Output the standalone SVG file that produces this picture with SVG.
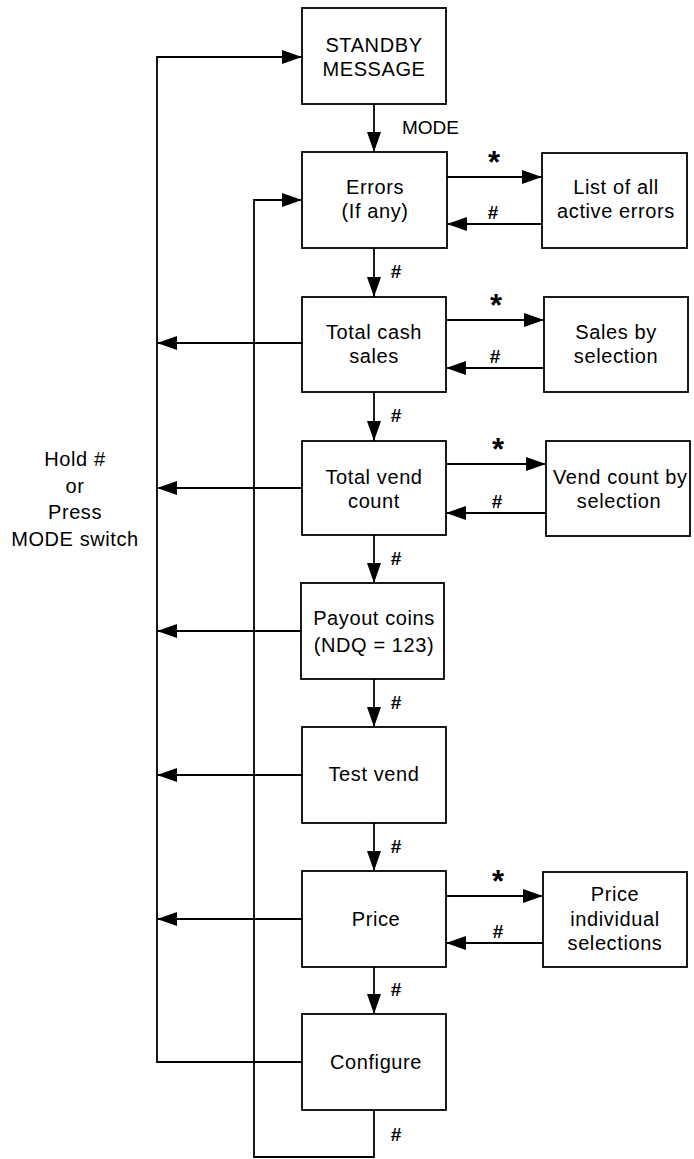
<svg xmlns="http://www.w3.org/2000/svg" width="694" height="1159" viewBox="0 0 694 1159">
<style>
.box{fill:#fff;stroke:#000;stroke-width:1.8}
.t{font-family:"Liberation Sans",Arial,sans-serif;font-size:20px;letter-spacing:0.6px;text-anchor:middle;fill:#000}
.c{fill:none;stroke:#000;stroke-width:1.8}
.a{marker-end:url(#ah)}
.h{font-family:"Liberation Sans",Arial,sans-serif;font-size:19px;font-weight:bold;text-anchor:middle;fill:#000}
.s{font-family:"Liberation Sans",Arial,sans-serif;font-size:31px;font-weight:bold;text-anchor:middle;fill:#000}
.m{font-family:"Liberation Sans",Arial,sans-serif;font-size:19px;fill:#000}
</style>
<defs>
<marker id="ah" viewBox="0 0 20 14" refX="20" refY="7" markerWidth="20" markerHeight="14" markerUnits="userSpaceOnUse" orient="auto">
<path d="M0,0 L20,7 L0,14 Z" fill="#000"/>
</marker>
</defs>
<rect width="694" height="1159" fill="#fff"/>
<g id="connectors">
<path class="c a" d="M302,1062 H157 V57 H302"/>
<path class="c a" d="M374,1110 V1157 H254 V200 H302"/>
<path class="c a" d="M302,343 H157"/>
<path class="c a" d="M302,488 H157"/>
<path class="c a" d="M301,631 H157"/>
<path class="c a" d="M302,775 H157"/>
<path class="c a" d="M302,919 H157"/>
<path class="c a" d="M374,104 V152"/>
<path class="c a" d="M374,248 V297"/>
<path class="c a" d="M374,392 V441"/>
<path class="c a" d="M374,535 V583"/>
<path class="c a" d="M374,679 V727"/>
<path class="c a" d="M374,823 V871"/>
<path class="c a" d="M374,967 V1014"/>
<path class="c a" d="M447,177 H542"/>
<path class="c a" d="M542,224 H447"/>
<path class="c a" d="M446,320 H544"/>
<path class="c a" d="M544,368 H446"/>
<path class="c a" d="M446,464 H546"/>
<path class="c a" d="M546,513 H446"/>
<path class="c a" d="M446,896 H543"/>
<path class="c a" d="M543,943 H446"/>
</g>
<g id="labels">
<text class="m" x="402" y="134">MODE</text>
<text class="h" x="396" y="278">#</text>
<text class="h" x="396" y="422">#</text>
<text class="h" x="396" y="565">#</text>
<text class="h" x="396" y="709">#</text>
<text class="h" x="396" y="853">#</text>
<text class="h" x="396" y="996">#</text>
<text class="h" x="396" y="1141">#</text>
<text class="s" x="494" y="173">*</text>
<text class="h" x="493" y="219">#</text>
<text class="s" x="496" y="316">*</text>
<text class="h" x="495" y="363">#</text>
<text class="s" x="498" y="460">*</text>
<text class="h" x="497" y="508">#</text>
<text class="s" x="498" y="892">*</text>
<text class="h" x="498" y="938">#</text>
<text class="t" x="75" y="466">Hold #</text>
<text class="t" x="75" y="493">or</text>
<text class="t" x="75" y="519">Press</text>
<text class="t" x="75" y="546">MODE switch</text>
</g>
<g id="standby"><rect class="box" x="302" y="8" width="144" height="96"/><text class="t" x="374" y="52">STANDBY</text><text class="t" x="374" y="76">MESSAGE</text></g>
<g id="errors"><rect class="box" x="302" y="152" width="145" height="96"/><text class="t" x="375" y="194">Errors</text><text class="t" x="375" y="218">(If any)</text></g>
<g id="list-errors"><rect class="box" x="542" y="153" width="145" height="95"/><text class="t" x="616" y="194">List of all</text><text class="t" x="616" y="218">active errors</text></g>
<g id="total-cash"><rect class="box" x="302" y="297" width="144" height="95"/><text class="t" x="374" y="339">Total cash</text><text class="t" x="374" y="363">sales</text></g>
<g id="sales-by-selection"><rect class="box" x="544" y="297" width="144" height="95"/><text class="t" x="616" y="339">Sales by</text><text class="t" x="616" y="363">selection</text></g>
<g id="total-vend"><rect class="box" x="302" y="441" width="144" height="94"/><text class="t" x="374" y="484">Total vend</text><text class="t" x="374" y="508">count</text></g>
<g id="vend-by-selection"><rect class="box" x="546" y="441" width="144" height="95"/><text class="t" x="553" y="484" style="text-anchor:start">Vend count by</text><text class="t" x="619" y="508">selection</text></g>
<g id="payout"><rect class="box" x="301" y="583" width="143" height="96"/><text class="t" x="374" y="625">Payout coins</text><text class="t" x="374" y="652">(NDQ = 123)</text></g>
<g id="test-vend"><rect class="box" x="302" y="727" width="144" height="96"/><text class="t" x="374" y="781">Test vend</text></g>
<g id="price"><rect class="box" x="302" y="871" width="144" height="96"/><text class="t" x="376" y="926">Price</text></g>
<g id="price-individual"><rect class="box" x="543" y="872" width="144" height="95"/><text class="t" x="615" y="901">Price</text><text class="t" x="615" y="926">individual</text><text class="t" x="615" y="950">selections</text></g>
<g id="configure"><rect class="box" x="302" y="1014" width="144" height="96"/><text class="t" x="376" y="1069">Configure</text></g>
</svg>
